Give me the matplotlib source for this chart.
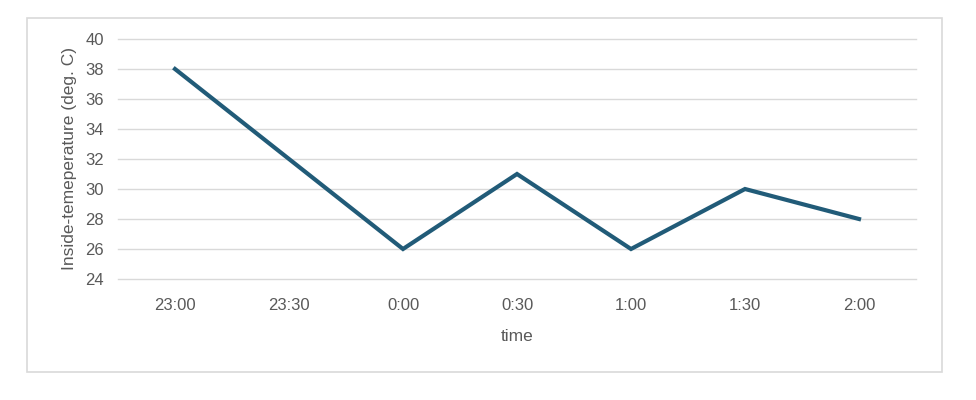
import matplotlib
matplotlib.use("Agg")
import matplotlib.pyplot as plt
from matplotlib.patches import Rectangle

times = ["23:00", "23:30", "0:00", "0:30", "1:00", "1:30", "2:00"]
temps = [38, 32, 26, 31, 26, 30, 28]
yticks = [24, 26, 28, 30, 32, 34, 36, 38, 40]

plt.rcParams['font.family'] = ['Liberation Sans', 'DejaVu Sans']

W, H = 976, 400
fig = plt.figure(figsize=(W / 100, H / 100), dpi=100)

# chart-area border like excel
fig.patches.append(Rectangle((27 / W, 1 - 372 / H), (942 - 27) / W, (372 - 18) / H,
                             transform=fig.transFigure, fill=False,
                             edgecolor="#d9d9d9", linewidth=1.2))

ax = fig.add_axes([118 / W, 1 - 279 / H, (916 - 118) / W, (279 - 39) / H])
x = list(range(len(times)))
ax.plot(x, temps, color="#215b78", linewidth=3, solid_joinstyle="miter", zorder=3)

ax.set_xlim(-0.5, len(times) - 0.5)
ax.set_ylim(24, 40)
ax.set_yticks(yticks)
ax.set_xticks(x)
ax.set_xticklabels(times)
ax.grid(axis="y", color="#d9d9d9", linewidth=1)
for gl in ax.get_ygridlines():
    gl.set_clip_on(False)
ax.set_axisbelow(True)
for s in ax.spines.values():
    s.set_visible(False)
ax.tick_params(length=0, labelsize=12, colors="#595959")
ax.tick_params(axis="x", pad=14)
ax.tick_params(axis="y", pad=10)

ax.set_xlabel("time", fontsize=12.5, color="#595959", labelpad=11)
ax.set_ylabel("Inside-temeperature (deg. C)", fontsize=12.5, color="#595959", labelpad=6)

fig.savefig("out.png", dpi=100)
